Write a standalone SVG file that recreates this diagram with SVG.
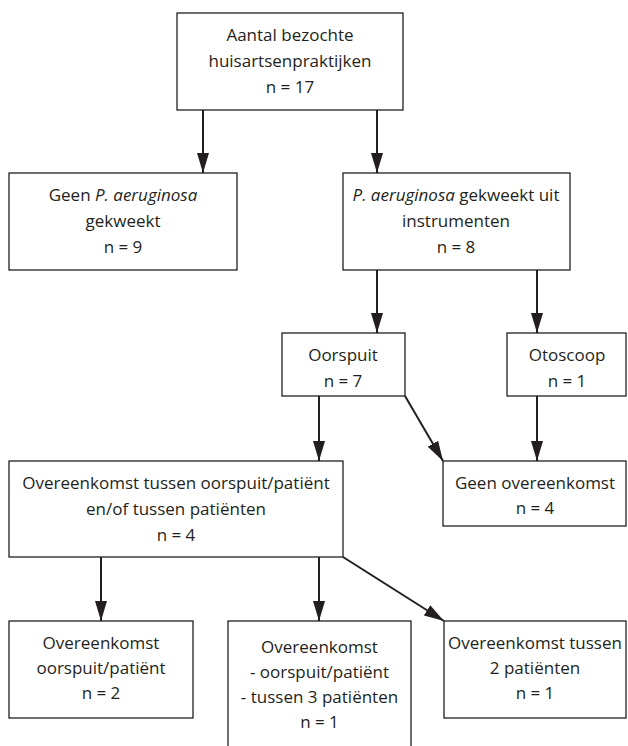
<svg xmlns="http://www.w3.org/2000/svg" width="628" height="746" viewBox="0 0 628 746">
<style>
  .box { fill: #ffffff; stroke: #231f20; stroke-width: 1.3; }
  .t { font-family: "Open Sans", "Liberation Sans", sans-serif; font-size: 17px; fill: #231f20; text-anchor: middle; }
  .i { font-style: italic; }
  .c { stroke: #231f20; stroke-width: 2; fill: none; marker-end: url(#ah); }
</style>
<defs>
  <marker id="ah" markerUnits="userSpaceOnUse" markerWidth="21" markerHeight="12" refX="20" refY="6" orient="auto">
    <path d="M0,0 L20,6 L0,12 z" fill="#231f20"/>
  </marker>
</defs>
<rect width="628" height="746" fill="#ffffff"/>
<g id="connectors">
  <line class="c" x1="203" y1="110" x2="203" y2="173"/>
  <line class="c" x1="377" y1="110" x2="377" y2="173"/>
  <line class="c" x1="377" y1="270" x2="377" y2="333"/>
  <line class="c" x1="537" y1="270" x2="537" y2="333"/>
  <line class="c" x1="319" y1="396" x2="319" y2="461"/>
  <line class="c" x1="405" y1="396" x2="443" y2="461"/>
  <line class="c" x1="537" y1="396" x2="537" y2="461"/>
  <line class="c" x1="101" y1="557" x2="101" y2="621"/>
  <line class="c" x1="319" y1="557" x2="319" y2="621"/>
  <line class="c" x1="343" y1="557" x2="444" y2="621"/>
</g>
<g id="n-top">
  <rect class="box" x="177" y="13" width="226" height="97"/>
  <text class="t" x="290" y="41">Aantal bezochte</text>
  <text class="t" x="290" y="67">huisartsenpraktijken</text>
  <text class="t" x="290" y="93">n = 17</text>
</g>
<g id="n-geen">
  <rect class="box" x="9" y="173" width="228" height="97"/>
  <text class="t" x="123" y="201">Geen <tspan class="i">P. aeruginosa</tspan></text>
  <text class="t" x="123" y="227">gekweekt</text>
  <text class="t" x="123" y="253">n = 9</text>
</g>
<g id="n-instr">
  <rect class="box" x="343" y="173" width="227" height="97"/>
  <text class="t" x="456" y="201"><tspan class="i">P. aeruginosa</tspan> gekweekt uit</text>
  <text class="t" x="456" y="227">instrumenten</text>
  <text class="t" x="456" y="253">n = 8</text>
</g>
<g id="n-oorspuit">
  <rect class="box" x="282" y="333" width="123" height="63"/>
  <text class="t" x="343" y="361">Oorspuit</text>
  <text class="t" x="343" y="387">n = 7</text>
</g>
<g id="n-otoscoop">
  <rect class="box" x="507" y="333" width="119" height="63"/>
  <text class="t" x="567" y="361">Otoscoop</text>
  <text class="t" x="567" y="387">n = 1</text>
</g>
<g id="n-overeenkomst">
  <rect class="box" x="9" y="461" width="334" height="96"/>
  <text class="t" x="176" y="489">Overeenkomst tussen oorspuit/patiënt</text>
  <text class="t" x="176" y="515">en/of tussen patiënten</text>
  <text class="t" x="176" y="541">n = 4</text>
</g>
<g id="n-geen-overeenkomst">
  <rect class="box" x="443" y="461" width="183" height="65"/>
  <text class="t" x="535" y="489">Geen overeenkomst</text>
  <text class="t" x="535" y="514">n = 4</text>
</g>
<g id="n-oorspuit-patient">
  <rect class="box" x="9" y="621" width="184" height="97"/>
  <text class="t" x="101" y="649">Overeenkomst</text>
  <text class="t" x="101" y="674">oorspuit/patiënt</text>
  <text class="t" x="101" y="699">n = 2</text>
</g>
<g id="n-beide">
  <rect class="box" x="228" y="621" width="183" height="140"/>
  <text class="t" x="319.5" y="653">Overeenkomst</text>
  <text class="t" x="319.5" y="678">- oorspuit/patiënt</text>
  <text class="t" x="319.5" y="703">- tussen 3 patiënten</text>
  <text class="t" x="319.5" y="728">n = 1</text>
</g>
<g id="n-twee-patienten">
  <rect class="box" x="444" y="621" width="182" height="97"/>
  <text class="t" x="535" y="649">Overeenkomst tussen</text>
  <text class="t" x="535" y="674">2 patiënten</text>
  <text class="t" x="535" y="699">n = 1</text>
</g>
</svg>
